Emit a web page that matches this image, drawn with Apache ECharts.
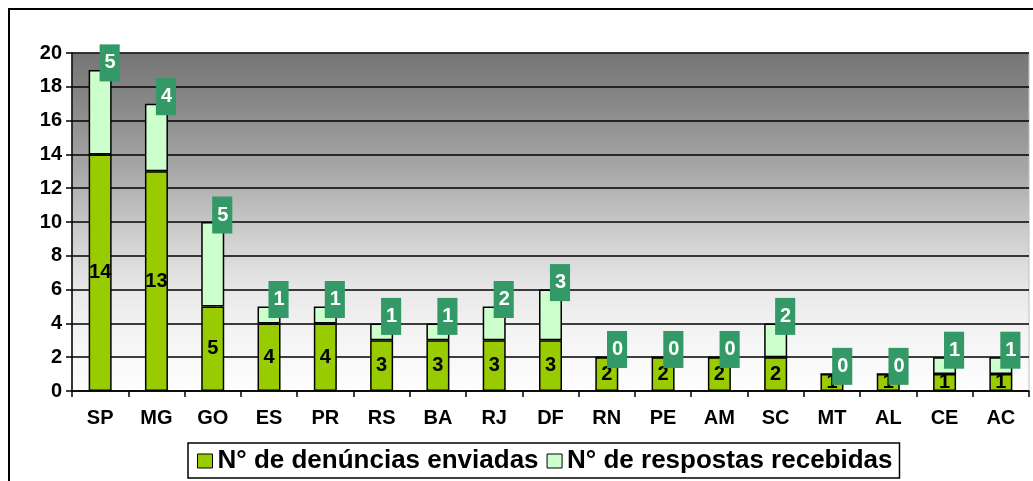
<!DOCTYPE html>
<html>
<head>
<meta charset="utf-8">
<script src="https://cdn.jsdelivr.net/npm/echarts@6/dist/echarts.min.js"></script>
<style>
html, body { margin: 0; padding: 0; background: #fff; }
#chart_1 { width: 1033px; height: 481px; }
</style>
</head>
<body>
<div id="chart_1"></div>
<script>
// estados
var categorias = ['SP', 'MG', 'GO', 'ES', 'PR', 'RS', 'BA', 'RJ', 'DF', 'RN', 'PE', 'AM', 'SC', 'MT', 'AL', 'CE', 'AC'];
// denuncias enviadas
var enviadas = [14, 13, 5, 4, 4, 3, 3, 3, 3, 2, 2, 2, 2, 1, 1, 1, 1];
// respostas recebidas
var recebidas = [5, 4, 5, 1, 1, 1, 1, 2, 3, 0, 0, 0, 2, 0, 0, 1, 1];
var nomeEnviadas = 'N° de denúncias enviadas';
var nomeRecebidas = 'N° de respostas recebidas';

var fonte = 'Liberation Sans, Arial, sans-serif';

var option = {
	animation: false,
	textStyle: { fontFamily: fonte },
	grid: {
		left: 72,
		right: 4,
		top: 53,
		bottom: 90
	},
	graphic: [{
		type: 'rect',
		shape: { x: 9, y: 9, width: 1060, height: 520 },
		style: { fill: null, stroke: '#000', lineWidth: 2 },
		z: -10
	}, {
		type: 'rect',
		shape: { x: 72, y: 53, width: 957, height: 338 },
		style: {
			fill: new echarts.graphic.LinearGradient(0, 0, 0, 1, [
				{ offset: 0, color: '#767676' },
				{ offset: 0.15, color: '#888888' },
				{ offset: 0.35, color: '#a8a8a8' },
				{ offset: 0.55, color: '#d0d0d0' },
				{ offset: 0.7, color: '#e8e8e8' },
				{ offset: 0.82, color: '#f3f3f3' },
				{ offset: 1, color: '#fefefe' }
			]),
			stroke: '#c0c0c0',
			lineWidth: 1
		},
		z: -5
	}],
	legend: {
		left: 188,
		top: 443,
		padding: [5, 7, 4, 9],
		borderColor: '#000',
		borderWidth: 1.5,
		itemWidth: 15,
		itemHeight: 14,
		itemGap: 8,
		icon: 'rect',
		textStyle: { fontSize: 26, fontWeight: 'bold', color: '#000', fontFamily: fonte },
		itemStyle: { borderColor: '#000', borderWidth: 1 },
		data: [nomeEnviadas, nomeRecebidas]
	},
	xAxis: {
		type: 'category',
		data: categorias,
		axisLine: { lineStyle: { color: '#000', width: 1.5 } },
		axisTick: { show: true, length: 6, lineStyle: { color: '#000', width: 1.5 } },
		axisLabel: { fontSize: 20, fontWeight: 'bold', color: '#000', margin: 17 }
	},
	yAxis: {
		type: 'value',
		min: 0,
		max: 20,
		interval: 2,
		axisLine: { show: true, lineStyle: { color: '#000', width: 1.5 } },
		axisTick: { show: true, length: 6, lineStyle: { color: '#000', width: 1.5 } },
		axisLabel: { fontSize: 20, fontWeight: 'bold', color: '#000', margin: 10 },
		splitLine: { lineStyle: { color: '#000', width: 1.5 } }
	},
	series: [{
		name: nomeEnviadas,
		type: 'bar',
		stack: 'total',
		barWidth: 23,
		itemStyle: { color: '#99cc00', borderColor: '#000', borderWidth: 1.5 },
		label: {
			show: true,
			position: 'inside',
			color: '#000',
			fontSize: 20,
			fontWeight: 'bold'
		},
		data: enviadas
	}, {
		name: nomeRecebidas,
		type: 'bar',
		stack: 'total',
		barWidth: 23,
		itemStyle: { color: '#ccffcc', borderColor: '#000', borderWidth: 1.5 },
		label: {
			show: true,
			position: ['100%', 0],
			align: 'center',
			verticalAlign: 'middle',
			offset: [-2, -7],
			color: '#fff',
			fontSize: 20,
			fontWeight: 'bold',
			backgroundColor: '#339966',
			padding: [9, 4, 8, 5]
		},
		data: recebidas
	}]
};

var myChart = echarts.init(document.getElementById('chart_1'));
myChart.setOption(option);
</script>
</body>
</html>
